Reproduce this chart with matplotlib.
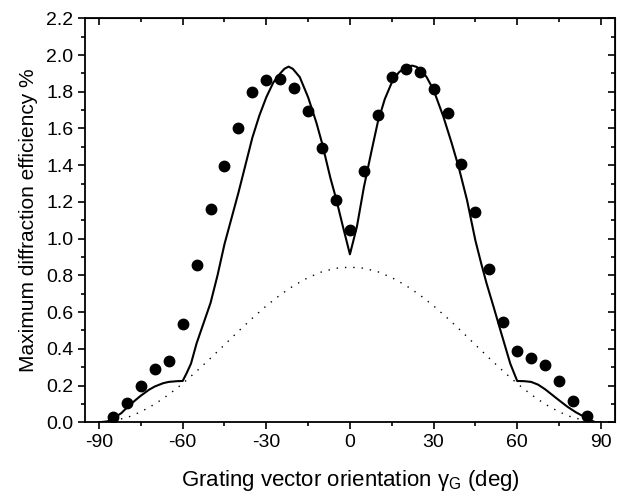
import matplotlib
matplotlib.use("Agg")
import matplotlib.pyplot as plt
from matplotlib.ticker import MultipleLocator

plt.rcParams['font.family'] = ['Liberation Sans', 'DejaVu Sans']

# Measured points
meas_x = [-85, -80, -75, -70, -65, -60, -55, -50, -45, -40, -35, -30, -25, -20, -15, -10, -5, 0,
          5, 10, 15, 20, 25, 30, 35, 40, 45, 50, 55, 60, 65, 70, 75, 80, 85]
meas_y = [0.03, 0.105, 0.20, 0.29, 0.332, 0.535, 0.858, 1.162, 1.398, 1.603, 1.799, 1.863, 1.868,
          1.823, 1.696, 1.496, 1.211, 1.047,
          1.37, 1.672, 1.879, 1.924, 1.91, 1.814, 1.685, 1.407, 1.145, 0.837, 0.545, 0.388, 0.349,
          0.312, 0.225, 0.116, 0.036]

# Solid model curve
model_x = [-90, -87, -85, -82, -80, -77, -75, -72, -70, -67, -65, -62, -60, -58.5, -57, -55, -52.5,
           -50, -47.5, -45, -42.5, -40, -37.5, -35, -32.5, -30, -27.5, -25, -23.5, -22, -20.5,
           -18, -15, -12, -10, -7, -5, -2.5, 0, 2.5, 5, 7.5, 10, 12.5, 15, 17.5, 19.5, 21, 22.5,
           24, 26, 27.5, 30, 33.5, 36.5, 39, 42, 45, 47, 49, 51.5, 54, 57.5, 60, 62.5, 65, 67.5,
           70, 72.5, 75, 78, 81, 85, 88, 90]
model_y = [0.0, 0.005, 0.02, 0.05, 0.08, 0.12, 0.145, 0.178, 0.195, 0.213, 0.22, 0.224, 0.225,
           0.27, 0.32, 0.43, 0.54, 0.65, 0.80, 0.97, 1.11, 1.25, 1.40, 1.55, 1.67, 1.77, 1.85,
           1.90, 1.925, 1.937, 1.925, 1.88, 1.77, 1.63, 1.52, 1.33, 1.22, 1.065, 0.915, 1.065,
           1.28, 1.46, 1.635, 1.76, 1.85, 1.905, 1.93, 1.94, 1.942, 1.935, 1.91, 1.88, 1.81,
           1.665, 1.52, 1.39, 1.21, 0.99, 0.87, 0.757, 0.63, 0.50, 0.32, 0.225, 0.224, 0.22,
           0.205, 0.18, 0.15, 0.12, 0.085, 0.055, 0.022, 0.0, 0.0]

# Dotted curve
dot_x = [-88, -85, -80, -75, -70, -65, -60, -55, -50, -45, -40, -35, -30, -25, -20, -15, -10, -5, 0,
         5, 10, 15, 20, 25, 30, 35, 40, 45, 50, 55, 60, 65, 70, 75, 80, 85, 88]
dot_y = [0.002, 0.01, 0.025, 0.057, 0.099, 0.151, 0.211, 0.278, 0.349, 0.422, 0.496, 0.567, 0.634,
         0.694, 0.746, 0.788, 0.82, 0.839, 0.845,
         0.839, 0.82, 0.788, 0.746, 0.694, 0.634, 0.567, 0.496, 0.422, 0.349, 0.278, 0.211, 0.151,
         0.099, 0.057, 0.025, 0.01, 0.002]

fig = plt.figure(figsize=(6.21, 4.99), dpi=100)
ax = fig.add_axes([0.137, 0.1537, 0.853, 0.8096])

ax.plot(dot_x, dot_y, color='black', lw=1.0, linestyle=(0, (1, 5)))
ax.plot(model_x, model_y, color='black', lw=1.5)
ax.plot(meas_x, meas_y, 'o', color='black', markersize=7.5)

ax.set_xlim(-95, 95)
ax.set_ylim(0, 2.2)
ax.xaxis.set_major_locator(MultipleLocator(30))
ax.xaxis.set_minor_locator(MultipleLocator(15))
ax.yaxis.set_major_locator(MultipleLocator(0.2))
ax.yaxis.set_minor_locator(MultipleLocator(0.1))
ax.set_xticks([-90, -60, -30, 0, 30, 60, 90])
ax.set_xticklabels(['-90', '-60', '-30', '0', '30', '60', '90'])
ax.yaxis.set_major_formatter(plt.FuncFormatter(lambda v, p: f"{v:.1f}"))

for s in ax.spines.values():
    s.set_linewidth(1.3)
ax.tick_params(which='major', direction='out', length=5, width=1.2, labelsize=14)
ax.tick_params(which='minor', direction='out', length=3, width=1.2)

# mirrored ticks pointing inward on top and right
top = ax.secondary_xaxis('top')
top.xaxis.set_major_locator(MultipleLocator(30))
top.xaxis.set_minor_locator(MultipleLocator(15))
top.tick_params(which='major', direction='in', length=5, width=1.2, labeltop=False)
top.tick_params(which='minor', direction='in', length=3, width=1.2)
right = ax.secondary_yaxis('right')
right.yaxis.set_major_locator(MultipleLocator(0.2))
right.yaxis.set_minor_locator(MultipleLocator(0.1))
right.tick_params(which='major', direction='in', length=5, width=1.2, labelright=False)
right.tick_params(which='minor', direction='in', length=3, width=1.2)

ax.set_xlabel(r'Grating vector orientation γ$_\mathregular{G}$ (deg)', fontsize=16, labelpad=12)
ax.set_ylabel('Maximum diffraction efficiency %', fontsize=15, labelpad=6)

fig.savefig('out.png', dpi=100)
